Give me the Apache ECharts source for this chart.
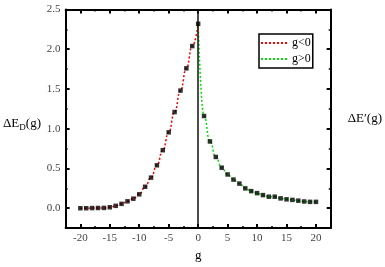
<!DOCTYPE html>
<html>
<head>
<meta charset="utf-8">
<script src="https://cdn.jsdelivr.net/npm/echarts@6/dist/echarts.min.js"></script>
<style>
  html, body { margin: 0; padding: 0; background: #fff; }
  #main { width: 385px; height: 267px; }
</style>
</head>
<body>
<div id="main"></div>
<script>
// g < 0 branch (red)
var gNeg = [-20, -19, -18, -17, -16, -15, -14, -13, -12, -11, -10, -9, -8, -7, -6, -5, -4, -3, -2, -1, 0];
var eNeg = [0.0, 0.0, 0.002, 0.003, 0.004, 0.012, 0.03, 0.055, 0.087, 0.12, 0.175, 0.27, 0.385, 0.54, 0.73, 0.955, 1.21, 1.48, 1.76, 2.04, 2.32];

// g > 0 branch (green)
var gPos = [0, 1, 2, 3, 4, 5, 6, 7, 8, 9, 10, 11, 12, 13, 14, 15, 16, 17, 18, 19, 20];
var ePos = [2.32, 1.16, 0.84, 0.645, 0.51, 0.425, 0.36, 0.31, 0.25, 0.215, 0.19, 0.165, 0.145, 0.145, 0.124, 0.112, 0.105, 0.095, 0.085, 0.08, 0.08];

var xMajor = [-20, -15, -10, -5, 0, 5, 10, 15, 20];
var xMinor = [-17.5, -12.5, -7.5, -2.5, 2.5, 7.5, 12.5, 17.5];
var yMajor = [0, 0.5, 1.0, 1.5, 2.0, 2.5];
var yMinor = [0.25, 0.75, 1.25, 1.75, 2.25];

var serif = 'Liberation Serif';

function pairs(xs, ys) {
  var out = [];
  for (var i = 0; i < xs.length; i++) {
    out.push([xs[i], ys[i]]);
  }
  return out;
}

function xAx(pos, ticks, len, showLine, showLabel) {
  return {
    type: 'value',
    position: pos,
    min: -22.5,
    max: 22.5,
    splitLine: { show: false },
    axisLine: { show: showLine, onZero: false, lineStyle: { color: '#000', width: 2 } },
    axisTick: { show: true, inside: true, length: len, customValues: ticks, lineStyle: { color: '#000', width: len > 3 ? 2 : 1.5 } },
    axisLabel: {
      show: showLabel,
      customValues: ticks,
      margin: 5,
      color: '#444',
      fontFamily: serif,
      fontSize: 11
    }
  };
}

function yAx(pos, ticks, len, showLine, showLabel) {
  return {
    type: 'value',
    position: pos,
    min: -0.25,
    max: 2.5,
    splitLine: { show: false },
    axisLine: { show: showLine, onZero: false, lineStyle: { color: '#000', width: 2 } },
    axisTick: { show: true, inside: true, length: len, customValues: ticks, lineStyle: { color: '#000', width: len > 3 ? 2 : 1.5 } },
    axisLabel: {
      show: showLabel,
      customValues: ticks,
      margin: 5,
      color: '#444',
      fontFamily: serif,
      fontSize: 11,
      formatter: function (v) { return v.toFixed(1); }
    }
  };
}

var xMain = xAx('bottom', xMajor, 4, true, true);
xMain.name = 'g';
xMain.nameLocation = 'middle';
xMain.nameGap = 20;
xMain.nameTextStyle = { fontFamily: serif, fontSize: 13, color: '#000' };

var yLeft = yAx('left', yMajor, 4, true, true);
yLeft.name = 'ΔE{sub|D}(g)';
yLeft.nameLocation = 'middle';
yLeft.nameRotate = 0;
yLeft.nameGap = 19;
yLeft.nameTextStyle = {
  fontFamily: serif, fontSize: 13, color: '#000', align: 'right',
  padding: [10, 0, 0, 0],
  rich: { sub: { fontFamily: serif, fontSize: 9, color: '#000', padding: [8, 0, 0, 0] } }
};

var yRight = yAx('right', yMajor, 4, true, false);
yRight.name = 'ΔE′(g)';
yRight.nameLocation = 'middle';
yRight.nameRotate = 0;
yRight.nameGap = 17;
yRight.nameTextStyle = { fontFamily: serif, fontSize: 13, color: '#000', align: 'left', padding: [0, 0, 6, 0] };

var option = {
  animation: false,
  backgroundColor: '#fff',
  grid: { left: 58, right: 50, top: 9.5, bottom: 36 },
  legend: {
    data: ['g<0', 'g>0'],
    orient: 'vertical',
    left: 259,
    top: 34,
    itemWidth: 26,
    itemHeight: 8,
    itemGap: 4,
    padding: [3, 2, 3, 1],
    borderColor: '#000',
    borderWidth: 1.5,
    backgroundColor: '#fff',
    itemStyle: { opacity: 0 },
    textStyle: { fontFamily: serif, fontSize: 12, color: '#000', width: 20, overflow: 'none' }
  },
  xAxis: [
    xMain,
    xAx('bottom', xMinor, 2, false, false),
    xAx('top', xMajor, 4, true, false),
    xAx('top', xMinor, 2, false, false)
  ],
  yAxis: [
    yLeft,
    yAx('left', yMinor, 2, false, false),
    yRight,
    yAx('right', yMinor, 2, false, false)
  ],
  series: [
    {
      name: 'g<0',
      type: 'line',
      data: pairs(gNeg, eNeg),
      smooth: true,
      smoothMonotone: 'x',
      symbol: 'none',
      z: 3,
      lineStyle: { color: '#ff0000', width: 1.5, type: [2, 2] },
      itemStyle: { color: '#ff0000' },
      markLine: {
        silent: true,
        symbol: ['none', 'none'],
        label: { show: false },
        lineStyle: { color: '#111', type: 'solid', width: 1.5 },
        data: [{ xAxis: 0 }]
      }
    },
    {
      name: 'g>0',
      type: 'line',
      data: pairs(gPos, ePos),
      smooth: true,
      smoothMonotone: 'x',
      symbol: 'none',
      z: 3,
      lineStyle: { color: '#00e000', width: 1.5, type: [2, 2] },
      itemStyle: { color: '#00e000' }
    },
    {
      type: 'scatter',
      data: pairs(gNeg, eNeg),
      symbol: 'rect',
      symbolSize: 4.5,
      z: 5,
      itemStyle: { color: '#000' }
    },
    {
      type: 'scatter',
      data: pairs(gPos.slice(1), ePos.slice(1)),
      symbol: 'rect',
      symbolSize: 4.5,
      z: 5,
      itemStyle: { color: '#000' }
    }
  ]
};

var chart = echarts.init(document.getElementById('main'), null, { width: 385, height: 267 });
chart.setOption(option);
</script>
</body>
</html>
